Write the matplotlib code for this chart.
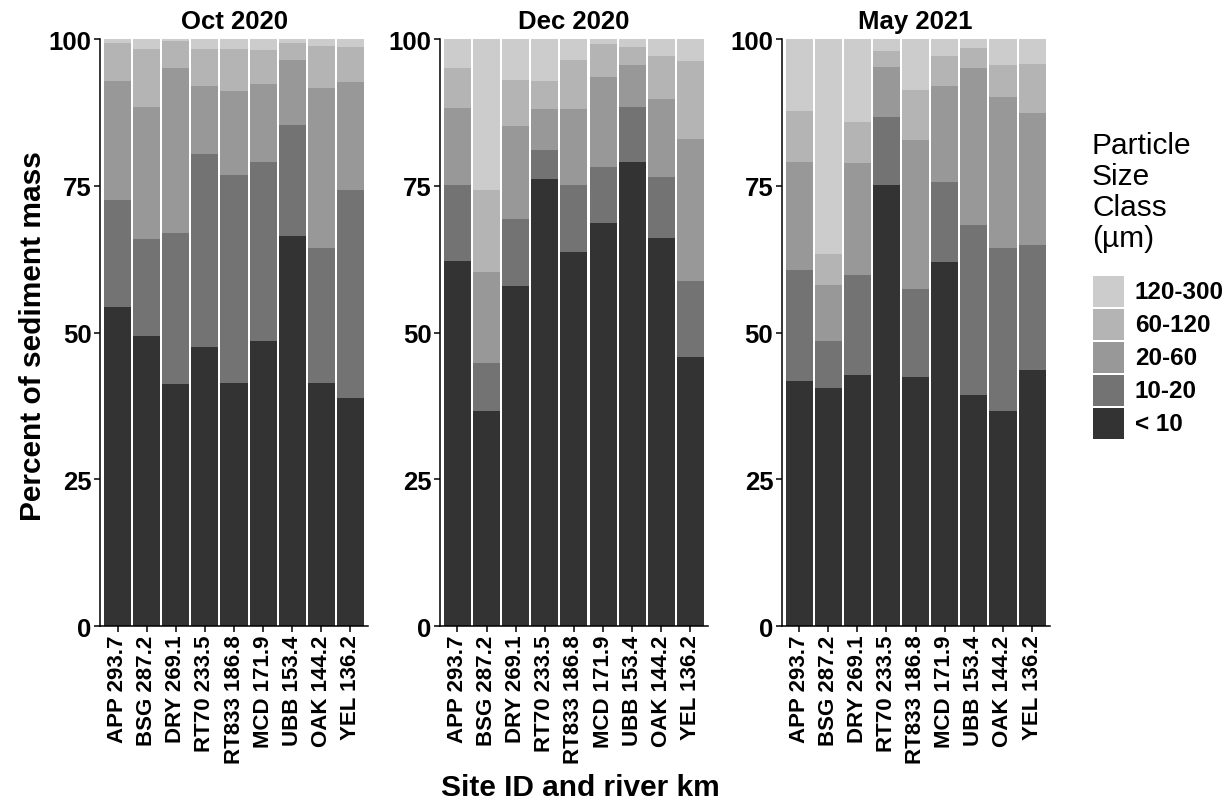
import numpy as np
import matplotlib
matplotlib.use('Agg')
import matplotlib.pyplot as plt
from matplotlib.patches import Rectangle

plt.rcParams['font.family'] = ['Liberation Sans', 'DejaVu Sans']

sites = ['APP 293.7', 'BSG 287.2', 'DRY 269.1', 'RT70 233.5', 'RT833 186.8',
         'MCD 171.9', 'UBB 153.4', 'OAK 144.2', 'YEL 136.2']
classes = ['< 10', '10-20', '20-60', '60-120', '120-300']
colors = ['#333333', '#737373', '#989898', '#B4B4B4', '#CCCCCC']
periods = ['Oct 2020', 'Dec 2020', 'May 2021']

# percent per class, one row per site: <10, 10-20, 20-60, 60-120, 120-300
oct_2020 = [[54.4, 18.2, 20.3, 6.5, 0.6],
            [49.5, 16.4, 22.6, 9.9, 1.6],
            [41.3, 25.7, 28.0, 4.6, 0.4],
            [47.6, 32.8, 11.7, 6.3, 1.6],
            [41.5, 35.4, 14.3, 7.2, 1.6],
            [48.5, 30.6, 13.3, 5.8, 1.8],
            [66.4, 19.0, 11.1, 2.9, 0.6],
            [41.5, 22.9, 27.3, 7.2, 1.1],
            [38.9, 35.4, 18.4, 6.0, 1.3]]
dec_2020 = [[62.2, 12.9, 13.2, 6.8, 4.9],
            [36.7, 8.2, 15.5, 13.9, 25.7],
            [57.9, 11.4, 15.9, 7.9, 6.9],
            [76.2, 4.9, 7.0, 4.8, 7.1],
            [63.7, 11.4, 13.0, 8.4, 3.5],
            [68.7, 9.5, 15.4, 5.5, 0.9],
            [79.1, 9.4, 7.1, 3.1, 1.3],
            [66.1, 10.4, 13.3, 7.4, 2.8],
            [45.9, 12.9, 24.2, 13.3, 3.7]]
may_2021 = [[41.7, 18.9, 18.5, 8.7, 12.2],
            [40.6, 7.9, 9.6, 5.3, 36.6],
            [42.7, 17.2, 19.0, 7.0, 14.1],
            [75.1, 11.7, 8.5, 2.6, 2.1],
            [42.5, 14.9, 25.4, 8.6, 8.6],
            [62.0, 13.7, 16.4, 5.1, 2.8],
            [39.3, 29.0, 26.8, 3.4, 1.5],
            [36.7, 27.7, 25.8, 5.4, 4.4],
            [43.6, 21.3, 22.5, 8.4, 4.2]]
all_data = [oct_2020, dec_2020, may_2021]

fig = plt.figure(figsize=(12.29, 8.03), dpi=100)

lefts = [0.0814, 0.358, 0.636]
x = np.arange(len(sites))

for left, title, data in zip(lefts, periods, all_data):
    ax = fig.add_axes([left, 0.219, 0.218, 0.731])
    vals = np.array(data)
    bottom = np.zeros(len(sites))
    for k in range(len(classes)):
        ax.bar(x, vals[:, k], bottom=bottom, width=0.93, color=colors[k], linewidth=0)
        bottom += vals[:, k]
    ax.set_xlim(-0.6, 8.6)
    ax.set_ylim(0, 100)
    ax.set_yticks([0, 25, 50, 75, 100])
    ax.set_xticks(x)
    ax.set_xticklabels(sites, rotation=90, fontsize=16, fontweight='bold')
    for lab in ax.get_yticklabels():
        lab.set_fontsize(18.5)
        lab.set_fontweight('bold')
    ax.spines['top'].set_visible(False)
    ax.spines['right'].set_visible(False)
    ax.spines['left'].set_linewidth(1.1)
    ax.spines['bottom'].set_linewidth(1.1)
    ax.tick_params(length=4, width=1.1, pad=2)
    ax.set_title(title, fontsize=18.5, fontweight='bold', pad=8)

fig.text(0.027, 0.582, 'Percent of sediment mass', rotation=90, ha='center', va='center',
         fontsize=21.5, fontweight='bold')
fig.text(0.472, 0.019, 'Site ID and river km', ha='center', va='center',
         fontsize=21.5, fontweight='bold')

# legend
fig.text(1092 / 1229, 1 - 132 / 803, 'Particle\nSize\nClass\n(µm)', ha='left', va='top',
         fontsize=21.5, linespacing=1.135)
for i, k in enumerate(range(len(classes) - 1, -1, -1)):
    top = 277 + i * 33
    fig.add_artist(Rectangle((1093 / 1229, 1 - (top + 31) / 803), 31 / 1229, 31 / 803,
                             transform=fig.transFigure, facecolor=colors[k], linewidth=0))
    fig.text(1135 / 1229, 1 - (top + 15.5) / 803, classes[k], ha='left', va='center',
             fontsize=17.5, fontweight='bold')

fig.savefig('out.png', dpi=100)
